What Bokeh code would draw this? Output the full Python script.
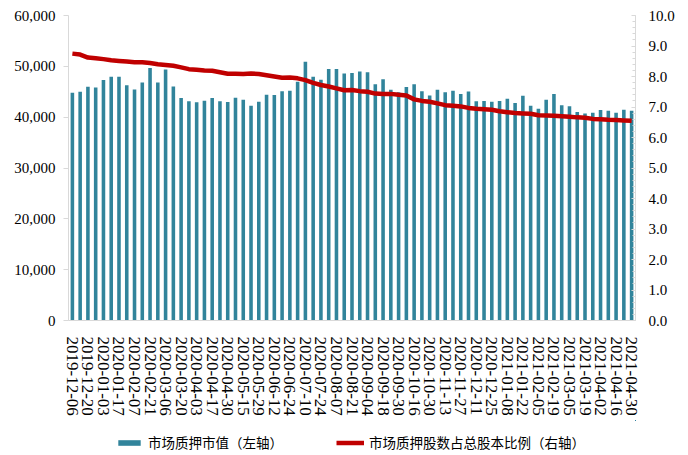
import math
from bokeh.plotting import figure
from bokeh.layouts import column
from bokeh.models import (Range1d, LinearAxis, FixedTicker, NumeralTickFormatter,
                          Legend, LegendItem, ColumnDataSource)
from bokeh.embed import file_html
from bokeh.resources import INLINE

dates = [
    "2019-12-06", "2019-12-13", "2019-12-20", "2019-12-27", "2020-01-03", "2020-01-10",
    "2020-01-17", "2020-01-23", "2020-02-07", "2020-02-14", "2020-02-21", "2020-02-28",
    "2020-03-06", "2020-03-13", "2020-03-20", "2020-03-27", "2020-04-03", "2020-04-10",
    "2020-04-17", "2020-04-24", "2020-04-30", "2020-05-08", "2020-05-15", "2020-05-22",
    "2020-05-29", "2020-06-05", "2020-06-12", "2020-06-19", "2020-06-24", "2020-07-03",
    "2020-07-10", "2020-07-17", "2020-07-24", "2020-07-31", "2020-08-07", "2020-08-14",
    "2020-08-21", "2020-08-28", "2020-09-04", "2020-09-11", "2020-09-18", "2020-09-25",
    "2020-09-30", "2020-10-09", "2020-10-16", "2020-10-23", "2020-10-30", "2020-11-06",
    "2020-11-13", "2020-11-20", "2020-11-27", "2020-12-04", "2020-12-11", "2020-12-18",
    "2020-12-25", "2020-12-31", "2021-01-08", "2021-01-15", "2021-01-22", "2021-01-29",
    "2021-02-05", "2021-02-10", "2021-02-19", "2021-02-26", "2021-03-05", "2021-03-12",
    "2021-03-19", "2021-03-26", "2021-04-02", "2021-04-09", "2021-04-16", "2021-04-23",
    "2021-04-30",
]

# 市场质押市值（亿元，左轴）
pledge_value = [
    44800, 45000, 46000, 45850, 47300, 47950, 47950, 46300, 45450, 46800,
    49650, 46800, 49400, 46050, 43750, 43150, 42950, 43250, 43750, 43150,
    43000, 43800, 43450, 42250, 43050, 44400, 44350, 45100, 45200, 46950,
    50900, 47950, 47350, 49500, 49500, 48600, 48700, 49000, 48850, 46500,
    47450, 45400, 44900, 45950, 46500, 45100, 44250, 45400, 44900, 45200,
    44550, 45050, 43150, 43200, 43050, 43200, 43600, 42800, 44200, 42250,
    41650, 43450, 44550, 42350, 42150, 41000, 40700, 40850, 41400, 41250,
    40850, 41450, 41250,
]

# 市场质押股数占总股本比例（%，右轴）
pledge_ratio = [
    8.75, 8.72, 8.62, 8.60, 8.57, 8.53, 8.51, 8.49, 8.47, 8.47,
    8.44, 8.40, 8.38, 8.35, 8.30, 8.24, 8.22, 8.20, 8.19, 8.14,
    8.09, 8.09, 8.08, 8.10, 8.08, 8.04, 8.00, 7.96, 7.97, 7.94,
    7.88, 7.79, 7.72, 7.67, 7.61, 7.55, 7.56, 7.52, 7.50, 7.44,
    7.43, 7.43, 7.40, 7.38, 7.25, 7.20, 7.17, 7.12, 7.06, 7.04,
    7.02, 6.97, 6.94, 6.93, 6.91, 6.86, 6.83, 6.80, 6.79, 6.78,
    6.73, 6.72, 6.71, 6.70, 6.68, 6.66, 6.65, 6.61, 6.60, 6.58,
    6.57, 6.56, 6.55,
]

legend_labels = ["市场质押市值（左轴）", "市场质押股数占总股本比例（右轴）"]

BAR_COLOR = "#31849B"
LINE_COLOR = "#C00000"
SERIF = "Liberation Serif"
AX = "#D9D9D9"
W = 680

idx = list(range(len(dates)))
src = ColumnDataSource(dict(x=idx, v=pledge_value, r=pledge_ratio))

p = figure(width=W, height=420, output_backend="svg", toolbar_location=None,
           x_range=Range1d(-0.5, len(dates) - 0.5), y_range=Range1d(0, 60000),
           min_border_left=68, min_border_right=45, min_border_top=15, min_border_bottom=100)
p.outline_line_color = None
p.xgrid.visible = False
p.ygrid.visible = False
p.extra_y_ranges = {"r": Range1d(0, 10)}

p.vbar(x="x", top="v", width=0.46, source=src, fill_color=BAR_COLOR, line_color=None)
p.line(x="x", y="r", source=src, y_range_name="r", line_color=LINE_COLOR, line_width=4.5)

# x axis
xa = p.xaxis[0]
xa.ticker = FixedTicker(ticks=idx[::2])
xa.major_label_overrides = {i: dates[i] for i in idx[::2]}
xa.major_label_orientation = -math.pi / 2
xa.major_label_text_font = SERIF
xa.major_label_text_font_size = "17px"
xa.major_label_text_color = "black"
xa.major_tick_line_color = None
xa.minor_tick_line_color = None
xa.axis_line_color = AX
xa.major_label_standoff = 10

# left axis
ya = p.yaxis[0]
ya.ticker = FixedTicker(ticks=list(range(0, 60001, 10000)))
ya.formatter = NumeralTickFormatter(format="0,0")
ya.major_label_text_font = SERIF
ya.major_label_text_font_size = "15px"
ya.major_label_text_color = "black"
ya.axis_line_color = AX
ya.major_tick_line_color = AX
ya.major_tick_out = 5
ya.major_tick_in = 0
ya.minor_tick_line_color = None
ya.major_label_standoff = 8

# right axis
ra = LinearAxis(y_range_name="r")
ra.ticker = FixedTicker(ticks=[i for i in range(0, 11)],
                        minor_ticks=[i / 5 for i in range(0, 51)])
ra.formatter = NumeralTickFormatter(format="0.0")
ra.major_label_text_font = SERIF
ra.major_label_text_font_size = "15px"
ra.major_label_text_color = "black"
ra.axis_line_color = AX
ra.major_tick_line_color = AX
ra.major_tick_in = 4
ra.major_tick_out = 0
ra.minor_tick_line_color = AX
ra.minor_tick_in = 3
ra.minor_tick_out = 0
ra.major_label_standoff = 13
p.add_layout(ra, "right")

# legend strip below the chart (its frame is aligned with the main chart's frame);
# the series are drawn here outside the visible ranges only to feed the legend swatches
LH = 34
p2 = figure(width=W, height=LH, output_backend="svg", toolbar_location=None,
            x_range=Range1d(-200, -100), y_range=Range1d(-200, -100),
            x_axis_type=None, y_axis_type=None, min_border=0)
p2.outline_line_color = None
p2.xgrid.visible = False
p2.ygrid.visible = False
lb = p2.vbar(x="x", top="v", width=0.46, source=src, fill_color=BAR_COLOR, line_color=None)
ll = p2.line(x="x", y="r", source=src, line_color=LINE_COLOR, line_width=4.5)
legend = Legend(items=[LegendItem(label=legend_labels[0], renderers=[lb]),
                       LegendItem(label=legend_labels[1], renderers=[ll])],
                orientation="horizontal", location=(47, 2),
                glyph_width=28, glyph_height=7, label_standoff=5, spacing=53,
                label_height=14, padding=0, margin=0,
                label_text_font="Noto Sans CJK SC", label_text_font_size="13.5px",
                label_text_color="black",
                border_line_color=None, background_fill_alpha=0)
p2.add_layout(legend, "center")

layout = column(p, p2, spacing=0)
open("out.html", "w").write(file_html(layout, INLINE))
